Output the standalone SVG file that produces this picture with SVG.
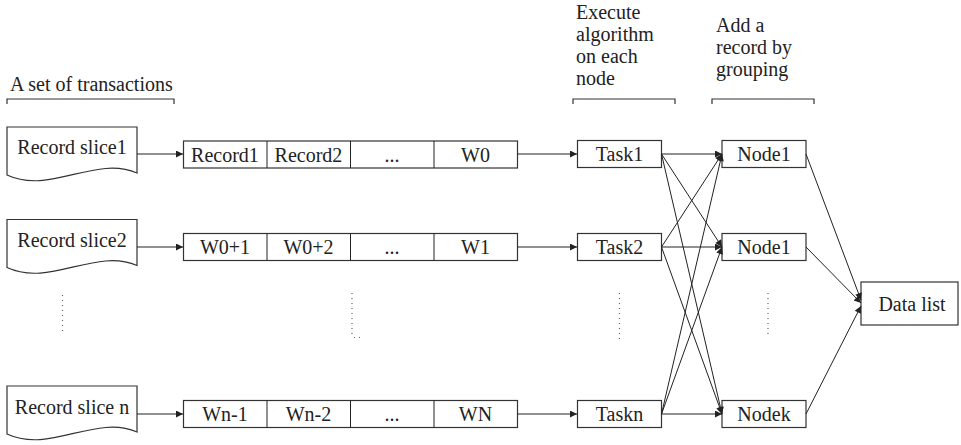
<svg xmlns="http://www.w3.org/2000/svg" width="961" height="445" viewBox="0 0 961 445" font-family="'Liberation Serif', 'DejaVu Serif', serif">
<style>
text{font-family:'Liberation Serif','DejaVu Serif',serif;font-size:20px;fill:#222}
.c{text-anchor:middle}
.box{fill:#fff;stroke:#333;stroke-width:1.2}
.ln{fill:none;stroke:#222;stroke-width:1}
.br{fill:none;stroke:#333;stroke-width:1.2}
.dot{fill:none;stroke:#666;stroke-width:1.2;stroke-dasharray:1 4}
</style>
<defs>
<marker id="ah" viewBox="0 0 10 10" refX="10" refY="5" markerWidth="9" markerHeight="7" markerUnits="userSpaceOnUse" orient="auto">
<path d="M0,0 L10,5 L0,10 Z" fill="#222"/>
</marker>
</defs>
<g id="labels">
<text x="10" y="91">A set of transactions</text>
<path class="br" d="M7,104 V99 H174 V104"/>
<text x="576" y="19">Execute</text>
<text x="576" y="41">algorithm</text>
<text x="576" y="63">on each</text>
<text x="576" y="85">node</text>
<path class="br" d="M573,104 V99 H675 V104"/>
<text x="716" y="32">Add a</text>
<text x="716" y="54">record by</text>
<text x="716" y="76">grouping</text>
<path class="br" d="M712,104 V99 H814 V104"/>
</g>
<g id="slice1"><path class="box" d="M7,127 H137 V173 C95,155 50,195 7,175 Z"/><text class="c" x="72" y="154">Record slice1</text></g>
<g id="slice2"><path class="box" d="M7,219.5 H137 V265.5 C95,247.5 50,287.5 7,267.5 Z"/><text class="c" x="72" y="246.5">Record slice2</text></g>
<g id="slicen"><path class="box" d="M7,386 H137 V432 C95,414 50,454 7,434 Z"/><text class="c" x="72" y="414">Record slice n</text></g>
<g id="row1">
<rect class="box" x="183.5" y="141" width="334" height="27"/>
<path class="ln" d="M267,141 V168 M350.5,141 V168 M434,141 V168" stroke="#333"/>
<text class="c" x="225" y="161.5">Record1</text><text class="c" x="308.5" y="161.5">Record2</text><text class="c" x="392" y="161.5">...</text><text class="c" x="475.5" y="161.5">W0</text>
</g>
<g id="row2">
<rect class="box" x="183.5" y="233.5" width="334" height="27"/>
<path class="ln" d="M267,233.5 V260.5 M350.5,233.5 V260.5 M434,233.5 V260.5" stroke="#333"/>
<text class="c" x="225" y="254">W0+1</text><text class="c" x="308.5" y="254">W0+2</text><text class="c" x="392" y="254">...</text><text class="c" x="475.5" y="254">W1</text>
</g>
<g id="rown">
<rect class="box" x="183.5" y="400.5" width="334" height="27"/>
<path class="ln" d="M267,400.5 V427.5 M350.5,400.5 V427.5 M434,400.5 V427.5" stroke="#333"/>
<text class="c" x="225" y="421">Wn-1</text><text class="c" x="308.5" y="421">Wn-2</text><text class="c" x="392" y="421">...</text><text class="c" x="475.5" y="421">WN</text>
</g>
<g id="task1"><rect class="box" x="577.5" y="140.5" width="84" height="27"/><text class="c" x="619.5" y="161">Task1</text></g>
<g id="task2"><rect class="box" x="577.5" y="233.5" width="84" height="27"/><text class="c" x="619.5" y="254">Task2</text></g>
<g id="taskn"><rect class="box" x="577.5" y="400.5" width="84" height="27"/><text class="c" x="619.5" y="421">Taskn</text></g>
<g id="node1"><rect class="box" x="722" y="140.5" width="84" height="27"/><text class="c" x="764" y="161">Node1</text></g>
<g id="node2"><rect class="box" x="722" y="233.5" width="84" height="27"/><text class="c" x="764" y="254">Node1</text></g>
<g id="nodek"><rect class="box" x="722" y="400.5" width="84" height="27"/><text class="c" x="764" y="421">Nodek</text></g>
<g id="datalist"><rect class="box" x="861" y="282" width="97" height="43"/><text class="c" x="912" y="311">Data list</text></g>
<g id="ellipses">
<path class="dot" d="M62.5,295 V332"/>
<path class="dot" d="M352,293 V334"/>
<path class="dot" d="M354,337.5 H360"/>
<path class="dot" d="M619.5,293 V340"/>
<path class="dot" d="M768,293 V335"/>
</g>
<g id="connectors">
<path class="ln" marker-end="url(#ah)" d="M137,154 H183"/>
<path class="ln" marker-end="url(#ah)" d="M137,247 H183"/>
<path class="ln" marker-end="url(#ah)" d="M137,414 H183"/>
<path class="ln" marker-end="url(#ah)" d="M517.5,154 H577"/>
<path class="ln" marker-end="url(#ah)" d="M517.5,247 H577"/>
<path class="ln" marker-end="url(#ah)" d="M517.5,414 H577"/>
<path class="ln" marker-end="url(#ah)" d="M661.5,154 L722,154"/>
<path class="ln" marker-end="url(#ah)" d="M661.5,154 L722,247"/>
<path class="ln" marker-end="url(#ah)" d="M661.5,154 L722,414"/>
<path class="ln" marker-end="url(#ah)" d="M661.5,247 L722,154"/>
<path class="ln" marker-end="url(#ah)" d="M661.5,247 L722,247"/>
<path class="ln" marker-end="url(#ah)" d="M661.5,247 L722,414"/>
<path class="ln" marker-end="url(#ah)" d="M661.5,414 L722,154"/>
<path class="ln" marker-end="url(#ah)" d="M661.5,414 L722,247"/>
<path class="ln" marker-end="url(#ah)" d="M661.5,414 L722,414"/>
<path class="ln" marker-end="url(#ah)" d="M806,154 L861,300"/>
<path class="ln" marker-end="url(#ah)" d="M806,247 L861,303"/>
<path class="ln" marker-end="url(#ah)" d="M806,414 L861,306"/>
</g>
</svg>
